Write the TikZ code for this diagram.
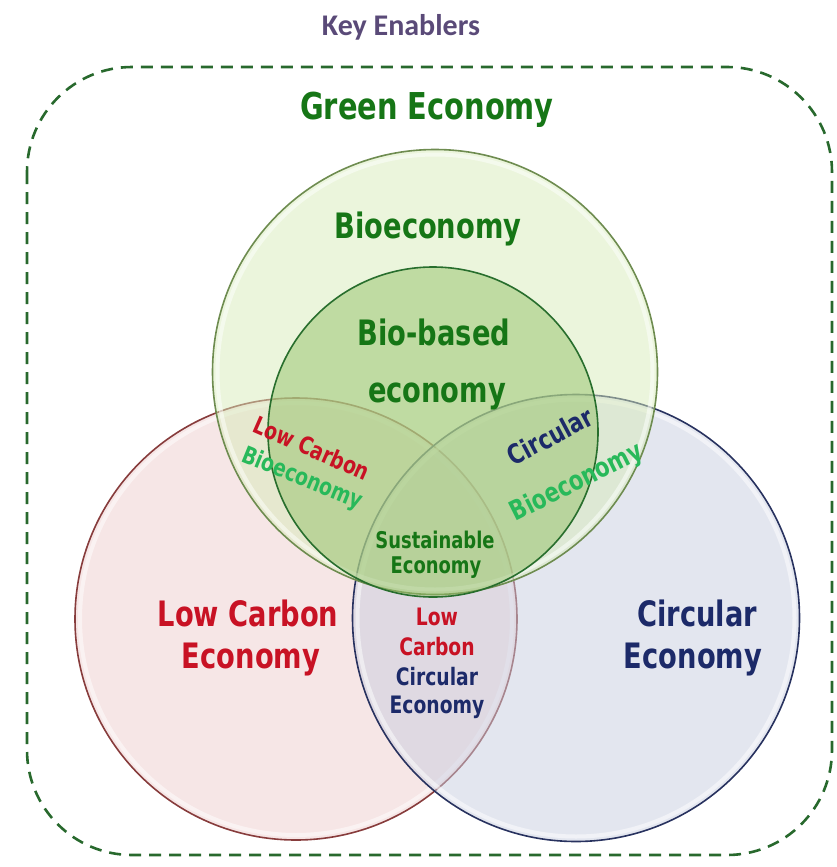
\documentclass[tikz,border=0pt]{standalone}
\usepackage{fontspec}
\newfontfamily\comicfont[FakeStretch=0.78]{DejaVu Sans}
\newfontfamily\calfont{Carlito}
\definecolor{keycol}{RGB}{90,74,120}
\definecolor{frame}{RGB}{40,105,45}
\definecolor{greentxt}{RGB}{22,118,22}
\definecolor{lightgreen}{RGB}{40,185,90}
\definecolor{redtxt}{RGB}{200,18,36}
\definecolor{navytxt}{RGB}{28,42,105}
\definecolor{biofill}{RGB}{215,235,185}
\definecolor{biodraw}{RGB}{110,140,80}
\definecolor{basedfill}{RGB}{148,193,105}
\definecolor{baseddraw}{RGB}{40,110,45}
\definecolor{lowfill}{RGB}{238,205,205}
\definecolor{lowdraw}{RGB}{135,60,60}
\definecolor{circfill}{RGB}{200,206,224}
\definecolor{circdraw}{RGB}{40,50,95}

\begin{document}
\begin{tikzpicture}[x=1pt,y=-1pt,
	ring/.style={draw,circle,inner sep=0,outer sep=0,line width=1.6pt,fill opacity=0.5},
	glow/.style={white,line width=4pt,draw opacity=0.5},
	big/.style={font=\comicfont\bfseries\fontsize{35}{35}\selectfont,inner sep=0,anchor=base},
	mid/.style={font=\comicfont\bfseries\fontsize{24}{24}\selectfont,inner sep=0},
	small/.style={font=\comicfont\bfseries\fontsize{23}{23}\selectfont,inner sep=0,anchor=base}]
	\useasboundingbox (0,0) rectangle (836,867);
	\draw[frame,line width=2.6pt,dash pattern=on 12pt off 8pt,rounded corners=105pt] (27,67) rectangle (832,855);
	\node[ring,draw=lowdraw,fill=lowfill,minimum size=442pt] (low) at (296,619) {};
	\draw[glow] (low.center) circle[radius=216pt];
	\node[ring,draw=circdraw,fill=circfill,minimum size=447pt] (circ) at (576,618) {};
	\draw[glow] (circ.center) circle[radius=218.5pt];
	\node[ring,draw=biodraw,fill=biofill,minimum size=445pt] (bio) at (435,372) {};
	\draw[glow] (bio.center) circle[radius=217.5pt];
	\node[ring,draw=baseddraw,fill=basedfill,minimum size=330pt] (based) at (433,432) {};
	\node[font=\calfont\bfseries\fontsize{30}{30}\selectfont,text=keycol,inner sep=0,anchor=base] (key) at (401,36) {Key Enablers};
	\node[big,text=greentxt,font=\comicfont\bfseries\fontsize{37}{37}\selectfont] (green) at (427,119) {Green Economy};
	\node[big,text=greentxt] (bioname) at (428,238) {Bioeconomy};
	\node[big,text=greentxt] (based1) at (434,345) {Bio-based};
	\node[big,text=greentxt] (based2) at (437,402) {economy};
	\node[mid,text=redtxt,rotate=-23.7] (lcb1) at (312,448) {Low Carbon};
	\node[mid,text=lightgreen,rotate=-22] (lcb2) at (302,479) {Bioeconomy};
	\node[mid,text=navytxt,rotate=28,font=\comicfont\bfseries\fontsize{27}{27}\selectfont] (cb1) at (550,436) {Circular};
	\node[mid,text=lightgreen,rotate=26.6,font=\comicfont\bfseries\fontsize{27}{27}\selectfont] (cb2) at (577,483) {Bioeconomy};
	\node[small,text=greentxt] (sus1) at (435,548) {Sustainable};
	\node[small,text=greentxt] (sus2) at (436,573) {Economy};
	\node[big,text=redtxt] (low1) at (248,626) {Low Carbon};
	\node[big,text=redtxt] (low2) at (251,668) {Economy};
	\node[big,text=navytxt] (circ1) at (697,626) {Circular};
	\node[big,text=navytxt] (circ2) at (693,668) {Economy};
	\node[small,text=redtxt,font=\comicfont\bfseries\fontsize{24}{24}\selectfont] (lcc1) at (437,625) {Low};
	\node[small,text=redtxt,font=\comicfont\bfseries\fontsize{24}{24}\selectfont] (lcc2) at (437,655) {Carbon};
	\node[small,text=navytxt,font=\comicfont\bfseries\fontsize{24}{24}\selectfont] (lcc3) at (437,685) {Circular};
	\node[small,text=navytxt,font=\comicfont\bfseries\fontsize{24}{24}\selectfont] (lcc4) at (437,713) {Economy};
\end{tikzpicture}
\end{document}
